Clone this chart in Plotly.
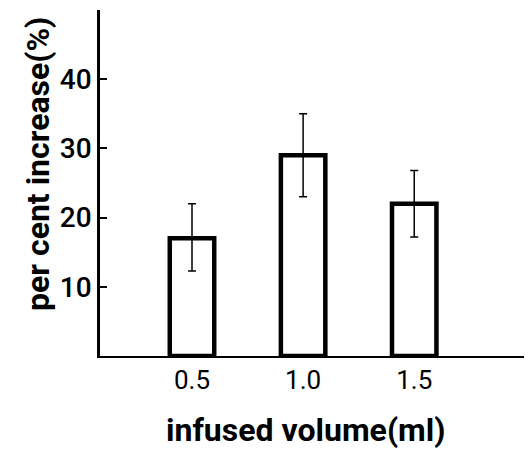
import plotly.graph_objects as go

volumes = [0.5, 1.0, 1.5]
tick_labels = ["0.5", "1.0", "1.5"]
increase = [17, 29, 22]
err_plus = [5.0, 6.0, 4.8]
err_minus = [4.7, 6.0, 4.8]

FONT = "Roboto"

fig = go.Figure()
fig.add_trace(go.Bar(
    x=volumes, y=increase, width=0.2,
    marker=dict(color="white", line=dict(color="black", width=4.5)),
    error_y=dict(type="data", array=err_plus, arrayminus=err_minus,
                 symmetric=False, color="black", thickness=1.5, width=4),
))

fig.update_layout(
    width=524, height=445,
    margin=dict(l=92, r=0, t=2, b=97),
    paper_bgcolor="white", plot_bgcolor="white",
    showlegend=False,
    font=dict(family=FONT, color="black"),
    xaxis=dict(range=[0.086, 2.03], tickmode="array", tickvals=volumes, ticktext=tick_labels,
               showline=True, linecolor="black", linewidth=2, ticks="", showgrid=False,
               zeroline=False, tickfont=dict(size=26, family=FONT)),
    yaxis=dict(range=[0, 50], tickmode="array", tickvals=[10, 20, 30, 40],
               showline=True, linecolor="black", linewidth=2.5, ticks="inside", ticklen=7,
               tickwidth=1.5, tickcolor="black", showgrid=False, zeroline=False,
               tickfont=dict(size=28, family=FONT, weight=500)),
    annotations=[
        dict(text="per cent increase(%)", xref="paper", yref="paper", x=0, y=0.555,
             xanchor="center", yanchor="middle", xshift=-62, textangle=-90,
             showarrow=False, font=dict(size=32, family=FONT, weight="bold", color="black")),
        dict(text="infused volume(ml)", xref="paper", yref="paper", x=0.477, y=0,
             xanchor="center", yanchor="middle", yshift=-74,
             showarrow=False, font=dict(size=32, family=FONT, weight="bold", color="black")),
    ],
)

fig.write_html("out.html")
